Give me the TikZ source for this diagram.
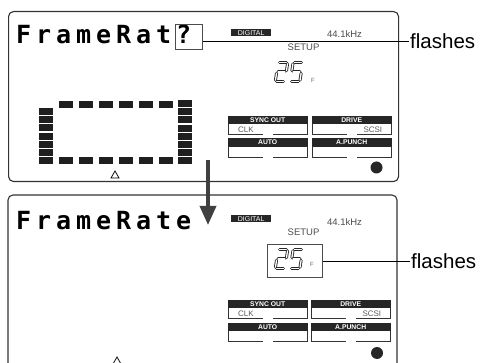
\documentclass[tikz,border=0pt]{standalone}
\usepackage{fontspec}
\setmainfont{Liberation Sans}
\newfontfamily\lcdfont[LetterSpace=19.8]{DejaVu Sans Mono Bold}
\usetikzlibrary{arrows.meta}
\tikzset{
 panel/.style={draw=black!80, line width=1.1pt, rounded corners=5pt},
 blk/.style={fill=black!88},
 lcd/.style={font=\lcdfont\fontsize{25}{26}\selectfont, inner sep=0pt, anchor=base west},
 small/.style={font=\fontsize{9.5}{10}\selectfont, text=black!70, inner sep=0pt},
 digi/.style={fill=black!85, text=white, font=\fontsize{7}{7}\selectfont, inner sep=0pt, minimum width=40pt, minimum height=7pt, anchor=north west},
 hdr/.style={fill=black!85, draw=black!85, line width=0.4pt, text=white, font=\fontsize{6.8}{7}\selectfont\bfseries, inner sep=0pt, minimum width=79pt, minimum height=7.5pt, anchor=north west},
 btnline/.style={draw=black!80, line width=0.8pt},
 sub/.style={font=\fontsize{8}{8}\selectfont, text=black!65, inner sep=0pt},
 seg/.style={draw=black!85, line width=0.85pt, double=white, double distance=1.3pt, line cap=round},
 flbl/.style={font=\fontsize{20.5}{21}\selectfont, inner sep=1pt, anchor=west},
 leader/.style={draw=black, line width=0.8pt},
 fbox/.style={draw=black!70, line width=0.8pt},
 tiny/.style={font=\fontsize{6}{6}\selectfont, text=black!60, inner sep=0pt},
}
\newcommand\mybtn[4]{%
 \node[hdr] (#1) at (#2,#3) {#4};
 \draw[btnline] ([xshift=0.4pt]#1.south west) -- ++(0,11) -- ++(34.5,0);
 \draw[btnline] ([xshift=-0.4pt]#1.south east) -- ++(0,11) -- ++(-34.5,0);
}
\newcommand\twofive[2]{%
 \begin{scope}[shift={(#1,#2)}, xslant=0.15]
 \draw[seg] (1.6,-19.5) -- (8.4,-19.5);
 \draw[seg] (9.8,-18.2) -- (9.8,-11.3);
 \draw[seg] (1.6,-10) -- (8.4,-10);
 \draw[seg] (0.2,-8.7) -- (0.2,-1.8);
 \draw[seg] (1.6,-0.5) -- (8.4,-0.5);
 \draw[seg] (16.6,-19.5) -- (23.4,-19.5);
 \draw[seg] (15.2,-18.2) -- (15.2,-11.3);
 \draw[seg] (16.6,-10) -- (23.4,-10);
 \draw[seg] (24.8,-8.7) -- (24.8,-1.8);
 \draw[seg] (16.6,-0.5) -- (23.4,-0.5);
 \end{scope}}
\begin{document}
\begin{tikzpicture}[x=1pt,y=-1pt]
\useasboundingbox (0,0) rectangle (482,363);
\clip (0,0) rectangle (482,363);
% panel 1
\node[panel, minimum width=390pt, minimum height=170pt, anchor=north west, inner sep=0pt] (p1) at (8,11) {};
\node[lcd] (t1) at (16,44) {FrameRat?};
\node[fbox, minimum width=27pt, minimum height=25pt, anchor=north west, inner sep=0pt] (qbox) at (175,24) {};
\node[digi] (dig1) at (231,29) {DIGITAL};
\node[small] (khz1) at (344.5,34) {44.1kHz};
\node[small] (set1) at (303.5,47) {SETUP};
\twofive{275}{82}
\node[tiny] (f1) at (313,80) {F};
\node[flbl] (fl1) at (409,41) {flashes};
\draw[leader] (fl1.west -| qbox.east) -- (fl1.west);
% dashed frame
\foreach \i in {0,...,5} {
 \fill[blk] (59+20*\i,101.5) rectangle ++(14,6.5);
 \fill[blk] (59+20*\i,157.2) rectangle ++(14,7);
}
\foreach \i in {0,...,6} \fill[blk] (39,108+8.2*\i) rectangle ++(14,7);
\foreach \i in {0,...,7} \fill[blk] (178,100+8.17*\i) rectangle ++(14,7);
\draw[line width=0.8pt] (111,178) -- (115,171) -- (119,178) -- cycle;
% buttons 1
\mybtn{sync1}{228}{116}{SYNC OUT}
\mybtn{drive1}{312}{116}{DRIVE}
\mybtn{auto1}{228}{138.5}{AUTO}
\mybtn{punch1}{312}{138.5}{A.PUNCH}
\node[sub, anchor=west] (clk1) at ([xshift=10pt, yshift=-5.5pt]sync1.south west) {CLK};
\node[sub, anchor=east] (scsi1) at ([xshift=-9pt, yshift=-5.5pt]drive1.south east) {SCSI};
\fill[black!85] (376.5,167.5) circle (6);
% panel 2
\draw[panel] (8,380) -- (8,195) -- (397,195) -- (397,380);
\node[lcd] (t2) at (16,230) {FrameRate};
\node[digi] (dig2) at (231,215) {DIGITAL};
\node[small] (khz2) at (344.5,222) {44.1kHz};
\node[small] (set2) at (303.5,232) {SETUP};
\node[fbox, minimum width=55pt, minimum height=33pt, anchor=north west, inner sep=0pt] (box2) at (267,244) {};
\twofive{275}{269}
\node[tiny] (f2) at (312,264) {F};
\node[flbl] (fl2) at (410,261) {flashes};
\draw[leader] (fl2.west -| box2.east) -- (fl2.west);
\mybtn{sync2}{228}{300}{SYNC OUT}
\mybtn{drive2}{311}{300}{DRIVE}
\mybtn{auto2}{228}{323}{AUTO}
\mybtn{punch2}{311}{323}{A.PUNCH}
\node[sub, anchor=west] (clk2) at ([xshift=10pt, yshift=-5.5pt]sync2.south west) {CLK};
\node[sub, anchor=east] (scsi2) at ([xshift=-9pt, yshift=-5.5pt]drive2.south east) {SCSI};
\fill[black!85] (377,353) circle (6);
\draw[line width=0.8pt] (113,364) -- (117,357) -- (121,364) -- cycle;
% arrow
\coordinate (as) at (208,160);
\coordinate (ae) at (208,225);
\draw[line width=3.5pt, draw=black!75, -{Triangle[width=16pt,length=19pt]}] (as) -- (ae);
\end{tikzpicture}
\end{document}
